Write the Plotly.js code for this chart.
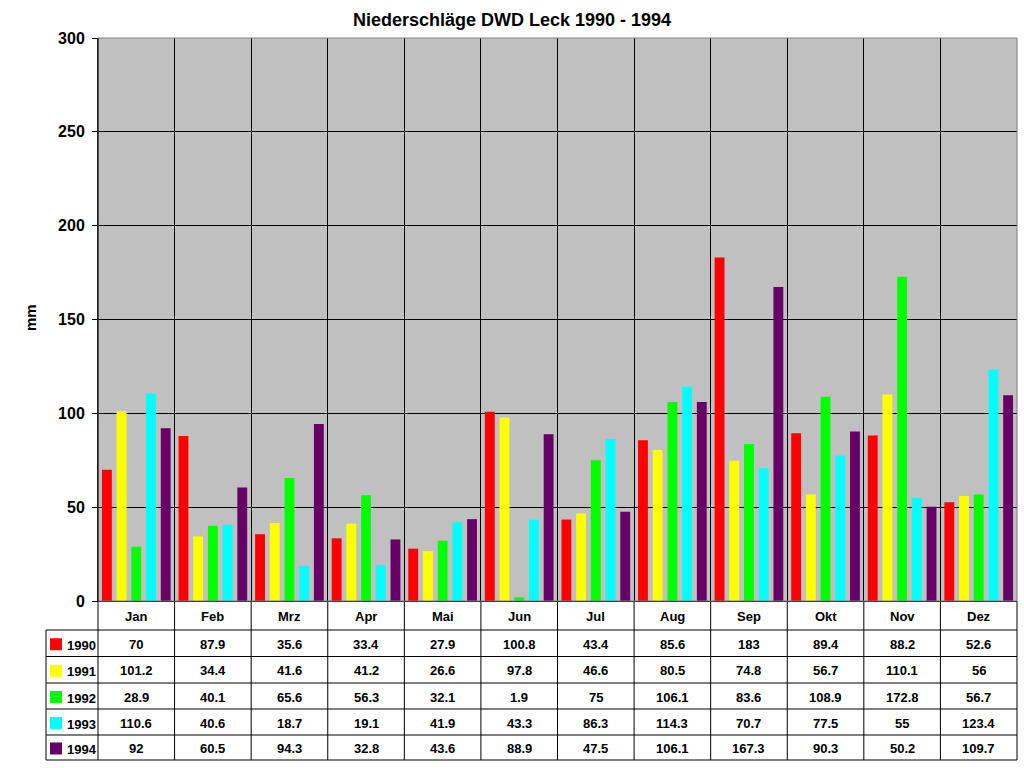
<!DOCTYPE html>
<html>
<head>
<meta charset="utf-8">
<script src="https://cdn.plot.ly/plotly-3.0.1.min.js"></script>
<style>
  body { margin: 0; background: #fff; }
  #chart { width: 1024px; height: 768px; }
</style>
</head>
<body>
<div id="chart"></div>
<script>
const monate = ["Jan", "Feb", "Mrz", "Apr", "Mai", "Jun", "Jul", "Aug", "Sep", "Okt", "Nov", "Dez"];
const jahre = ["1990", "1991", "1992", "1993", "1994"];

const n1990 = [70, 87.9, 35.6, 33.4, 27.9, 100.8, 43.4, 85.6, 183, 89.4, 88.2, 52.6];
const n1991 = [101.2, 34.4, 41.6, 41.2, 26.6, 97.8, 46.6, 80.5, 74.8, 56.7, 110.1, 56];
const n1992 = [28.9, 40.1, 65.6, 56.3, 32.1, 1.9, 75, 106.1, 83.6, 108.9, 172.8, 56.7];
const n1993 = [110.6, 40.6, 18.7, 19.1, 41.9, 43.3, 86.3, 114.3, 70.7, 77.5, 55, 123.4];
const n1994 = [92, 60.5, 94.3, 32.8, 43.6, 88.9, 47.5, 106.1, 167.3, 90.3, 50.2, 109.7];

const reihen = [n1990, n1991, n1992, n1993, n1994];
const farben = ["#FF0000", "#FFFF00", "#00FF00", "#00FFFF", "#660066"];

// Pixelgeometrie des Plotbereichs
const W = 1024, H = 768;
const L = 98, R = 1017, T = 38, B = 601;
const px = p => (p - L) / (R - L);
const py = p => (B - p) / (B - T);

const schrift = { family: "Arial, 'Liberation Sans', sans-serif", color: "#000", weight: "bold" };

const traces = reihen.map((werte, i) => ({
    type: "bar",
    name: jahre[i],
    x: monate,
    y: werte,
    marker: { color: farben[i], line: { width: 0 } },
    hoverinfo: "x+y+name"
}));

// Tabelle unter dem Diagramm
const zeilen = [630, 656.5, 683, 709, 735, 760];
const shapes = [];
const annotations = [];

const linie = (x0, y0, x1, y1, farbe) => ({
    type: "line", xref: "paper", yref: "paper",
    x0: x0, y0: y0, x1: x1, y1: y1,
    line: { color: farbe || "#000", width: 1 }
});

for (let k = 0; k <= monate.length; k++) {
    const x = k / monate.length;
    shapes.push(linie(x, py(B), x, py(zeilen[zeilen.length - 1])));
}
shapes.push(linie(px(46), py(zeilen[0]), px(46), py(zeilen[zeilen.length - 1])));
zeilen.forEach(y => shapes.push(linie(px(46), py(y), 1, py(y))));

// Rahmen des Plotbereichs
shapes.push({
    type: "rect", xref: "paper", yref: "paper", x0: 0, y0: 0, x1: 1, y1: 1,
    line: { color: "#808080", width: 1 }, layer: "above"
});
shapes.push(linie(0, 0, 0, 1, "#000"));

monate.forEach((m, j) => {
    annotations.push({
        text: m, x: m, xref: "x", y: py(616), yref: "paper",
        showarrow: false, xanchor: "center", yanchor: "middle",
        font: Object.assign({ size: 13 }, schrift)
    });
});

reihen.forEach((werte, i) => {
    const mitte = (zeilen[i] + zeilen[i + 1]) / 2 + 1;
    shapes.push({
        type: "rect", xref: "paper", yref: "paper",
        x0: px(50), x1: px(62), y0: py(mitte - 6), y1: py(mitte + 6),
        fillcolor: farben[i], line: { width: 0 }
    });
    annotations.push({
        text: jahre[i], x: px(65), xref: "paper", y: py(mitte + 1), yref: "paper",
        showarrow: false, xanchor: "left", yanchor: "middle",
        font: Object.assign({ size: 13 }, schrift)
    });
    werte.forEach((v, j) => {
        annotations.push({
            text: String(v), x: monate[j], xref: "x", y: py(mitte), yref: "paper",
            showarrow: false, xanchor: "center", yanchor: "middle",
            font: Object.assign({ size: 13 }, schrift)
        });
    });
});

annotations.push({
    text: "mm", x: px(30), xref: "paper", y: py(318), yref: "paper",
    textangle: -90, showarrow: false, xanchor: "center", yanchor: "middle",
    font: Object.assign({ size: 15 }, schrift)
});

const layout = {
    width: W, height: H,
    margin: { l: L, r: W - R, t: T, b: H - B, pad: 0 },
    paper_bgcolor: "#FFFFFF",
    plot_bgcolor: "#C0C0C0",
    showlegend: false,
    barmode: "group",
    bargap: 0.04,
    bargroupgap: 0.33,
    title: {
        text: "Niederschläge DWD Leck 1990 - 1994",
        x: 0.5, xref: "container", xanchor: "center",
        y: 1 - 20 / H, yref: "container", yanchor: "middle",
        font: Object.assign({ size: 18 }, schrift)
    },
    xaxis: {
        type: "category",
        showticklabels: false,
        ticks: "",
        tickson: "boundaries",
        showgrid: true,
        gridcolor: "#000",
        gridwidth: 1,
        showline: true,
        linecolor: "#000",
        linewidth: 1,
        zeroline: false,
        fixedrange: true
    },
    yaxis: {
        range: [0, 300],
        dtick: 50,
        tick0: 0,
        ticks: "outside",
        ticklen: 5,
        tickcolor: "#000",
        ticklabelstandoff: 4,
        tickfont: Object.assign({ size: 16 }, schrift),
        showgrid: true,
        gridcolor: "#000",
        gridwidth: 1,
        showline: true,
        linecolor: "#000",
        zeroline: false,
        fixedrange: true
    },
    shapes: shapes,
    annotations: annotations
};

Plotly.newPlot("chart", traces, layout, { displayModeBar: false, staticPlot: true });
</script>
</body>
</html>
